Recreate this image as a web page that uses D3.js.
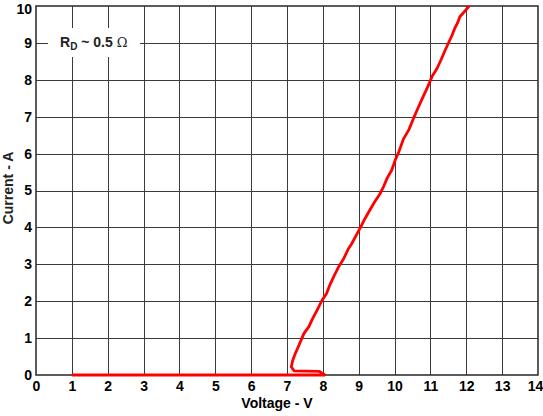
<!DOCTYPE html>
<html><head><meta charset="utf-8">
<script src="https://cdn.jsdelivr.net/npm/d3@7"></script>
<style>body{margin:0;background:#fff}svg{display:block}text{font-family:"Liberation Sans",Arial,sans-serif}</style>
</head><body>
<svg id="c" width="543" height="416"></svg>
<script>
const xTicks = [0,1,2,3,4,5,6,7,8,9,10,11,12,13,14];
const yTicks = [0,1,2,3,4,5,6,7,8,9,10];
const voltage = [1.0, 8.05, 7.9, 7.2, 7.12, 7.16, 7.24, 7.33, 7.47, 7.61, 7.7, 7.84, 7.98, 8.1, 8.2, 8.32, 8.44, 8.58, 8.7, 8.8, 8.91, 9.05, 9.18, 9.3, 9.45, 9.6, 9.7, 9.8, 9.92, 10.02, 10.12, 10.25, 10.4, 10.53, 10.66, 10.8, 10.92, 11.04, 11.18, 11.3, 11.4, 11.5, 11.6, 11.68, 11.76, 11.82, 11.95, 12.08];
const current = [0, 0, 0.1, 0.11, 0.22, 0.4, 0.6, 0.8, 1.12, 1.31, 1.5, 1.76, 2.03, 2.2, 2.45, 2.7, 2.93, 3.15, 3.4, 3.55, 3.75, 4.0, 4.25, 4.45, 4.7, 4.92, 5.12, 5.35, 5.55, 5.83, 6.05, 6.4, 6.65, 6.96, 7.25, 7.55, 7.8, 8.08, 8.3, 8.55, 8.78, 8.99, 9.2, 9.4, 9.55, 9.71, 9.85, 10];

const svg = d3.select("#c");
const x = d3.scaleLinear().domain([0,14]).range([36,538]);
const y = d3.scaleLinear().domain([0,10]).range([375,6]);
const FONT = "Liberation Sans, Arial, sans-serif";

// grid
svg.append("g").selectAll("line").data(xTicks.slice(1,-1)).join("line")
  .attr("x1",d=>Math.round(x(d))+0.5).attr("x2",d=>Math.round(x(d))+0.5)
  .attr("y1",y(10)).attr("y2",y(0)).attr("stroke","#3a3a3a").attr("stroke-width",1);
svg.append("g").selectAll("line").data(yTicks.slice(1,-1)).join("line")
  .attr("y1",d=>Math.round(y(d))+0.5).attr("y2",d=>Math.round(y(d))+0.5)
  .attr("x1",x(0)).attr("x2",x(14)).attr("stroke","#3a3a3a").attr("stroke-width",1);

// frame
svg.append("rect").attr("x",x(0)).attr("y",y(10)).attr("width",x(14)-x(0)).attr("height",y(0)-y(10))
  .attr("fill","none").attr("stroke","#333").attr("stroke-width",1.6);

// axes labels
const xa = d3.axisBottom(x).tickValues(xTicks).tickSize(0).tickPadding(6).tickFormat(d3.format("d"));
const gx = svg.append("g").attr("transform",`translate(0,${y(0)})`).call(xa)
  .call(g=>g.select(".domain").remove());
gx.selectAll("text").attr("font-size",14).attr("font-weight","bold").attr("fill","#000").attr("font-family",FONT);
gx.selectAll(".tick").filter(d=>d===14).select("text").attr("dx",-3);
const ya = d3.axisLeft(y).tickValues(yTicks).tickSize(0).tickPadding(4).tickFormat(d3.format("d"));
const gy = svg.append("g").attr("transform",`translate(${x(0)},0)`).call(ya)
  .call(g=>g.select(".domain").remove());
gy.selectAll("text").attr("font-size",14).attr("font-weight","bold").attr("fill","#000").attr("font-family",FONT);
gy.selectAll(".tick").filter(d=>d===10).select("text").attr("y",3);

svg.append("text").attr("x",277).attr("y",408).attr("text-anchor","middle")
  .attr("font-size",14).attr("font-weight","bold").text("Voltage - V");
svg.append("text").attr("transform","translate(13,188) rotate(-90)").attr("text-anchor","middle")
  .attr("font-size",14).attr("font-weight","bold").attr("fill","#222").text("Current - A");

// annotation
svg.append("rect").attr("x",48).attr("y",28).attr("width",92).attr("height",29).attr("fill","#fff");
const t = svg.append("text").attr("x",60).attr("y",47).attr("font-size",14).attr("font-weight","bold").attr("fill","#222");
t.append("tspan").text("R");
t.append("tspan").attr("font-size",10).attr("dy",3).text("D");
t.append("tspan").attr("dy",-3).text(" ~ 0.5 ");
t.append("tspan").attr("font-weight","normal").attr("font-family","DejaVu Serif, serif").attr("font-size",13).text("Ω");

// data line
const pts = voltage.map((v,i)=>[v,current[i]]);
svg.append("path").datum(pts).attr("fill","none").attr("stroke","#ff0000").attr("stroke-width",2.8)
  .attr("stroke-linejoin","round")
  .attr("d",d3.line().x(d=>x(d[0])).y(d=>y(d[1])));
</script>
</body></html>
